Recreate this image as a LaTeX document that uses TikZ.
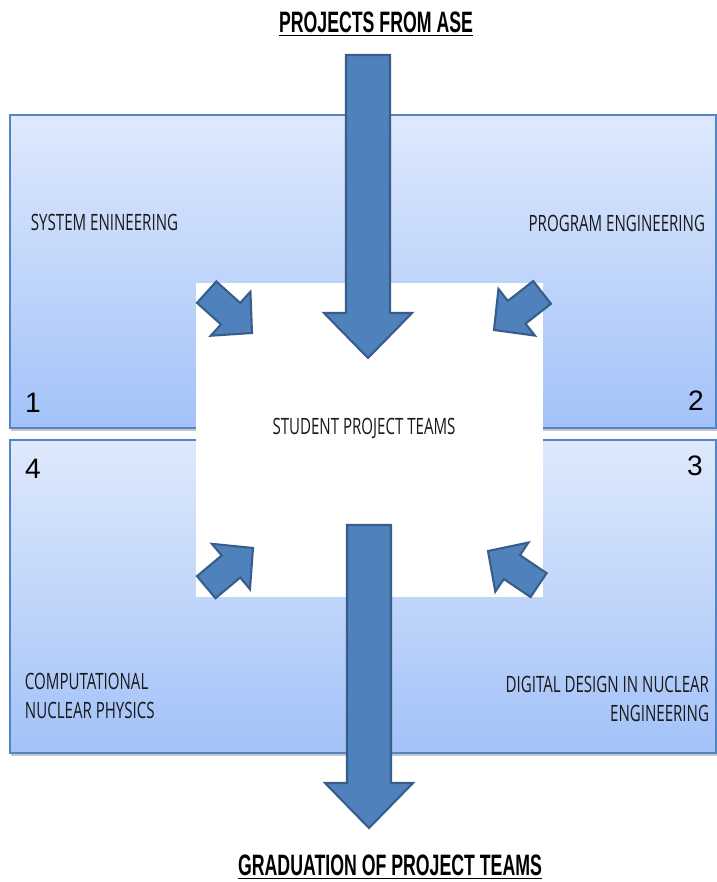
\documentclass[tikz,border=0pt]{standalone}
\usepackage{fontspec}
\usepackage{tikz}
\usetikzlibrary{shadows}
\setmainfont{Liberation Sans}
\newfontfamily\labelfont[FakeStretch=0.67]{Open Sans}
\newfontfamily\titlefont[FakeStretch=0.6]{Liberation Sans Bold}
\definecolor{boxtop}{RGB}{222,233,252}
\definecolor{boxbottom}{RGB}{163,194,248}
\definecolor{boxline}{RGB}{84,132,195}
\definecolor{arrowfill}{RGB}{79,129,189}
\definecolor{arrowline}{RGB}{56,93,138}
\tikzstyle{quadrant} = [rectangle, minimum width=8.825cm, minimum height=7.825cm,
draw=boxline, line width=0.8pt, top color=boxtop, bottom color=boxbottom,
drop shadow={shadow xshift=0.03cm, shadow yshift=-0.08cm, opacity=0.45}]
\tikzstyle{blockarrow} = [fill=arrowfill, draw=arrowline, line width=1.5pt, line join=miter]
\tikzstyle{area} = [font=\labelfont\fontsize{16}{20}\selectfont, text=black!90]
\tikzstyle{number} = [font=\fontsize{20}{24}\selectfont]
\tikzstyle{heading} = [font=\titlefont\fontsize{21}{24}\selectfont, anchor=base]
\tikzset{smallarrow/.pic={
\draw[blockarrow] (0,0) -- (-0.72,0.74) -- (-0.72,0.36) -- (-1.525,0.36) -- (-1.525,-0.36)
-- (-0.72,-0.36) -- (-0.72,-0.74) -- cycle;}}

\begin{document}
\begin{tikzpicture}
				\useasboundingbox (0,0) rectangle (17.925,22.05);
				\node (q1) at (4.6625,15.2625) [quadrant] {};
				\node (q2) at (13.4875,15.2625) [quadrant] {};
				\node (q4) at (4.6625,7.1375) [quadrant] {};
				\node (q3) at (13.4875,7.1375) [quadrant] {};
				\node (teams) at (9.2375,11.05) [fill=white, minimum width=8.675cm, minimum height=7.85cm] {};
				\node[area] (teamslabel) at (9.1,11.35) {STUDENT PROJECT TEAMS};
				\node[area, anchor=west] (sys) at (0.65,16.5) {SYSTEM ENINEERING};
				\node[area, anchor=east] (prog) at (17.75,16.475) {PROGRAM ENGINEERING};
				\node[area, anchor=west, align=left] (comp) at (0.5,4.65) {COMPUTATIONAL\\ NUCLEAR PHYSICS};
				\node[area, anchor=east, align=right] (digital) at (17.85,4.575) {DIGITAL DESIGN IN NUCLEAR\\ENGINEERING};
				\node[number] (n1) at (0.825,11.975) {1};
				\node[number] (n2) at (17.4,12.025) {2};
				\node[number] (n3) at (17.375,10.4) {3};
				\node[number] (n4) at (0.825,10.325) {4};
				% arrows into the teams
				\pic[rotate=-42] at (6.3,13.725) {smallarrow};
				\pic[rotate=-142] at (12.35,13.8) {smallarrow};
				\pic[rotate=40] at (6.325,8.35) {smallarrow};
				\pic[rotate=146] at (12.2,8.275) {smallarrow};
				\draw[blockarrow] (8.65,20.675) -- (9.75,20.675) -- (9.75,14.225) -- (10.3,14.225)
				-- (9.2,13.1) -- (8.1,14.225) -- (8.65,14.225) -- cycle;
				\draw[blockarrow] (8.675,8.925) -- (9.775,8.925) -- (9.775,2.475) -- (10.325,2.475)
				-- (9.225,1.35) -- (8.125,2.475) -- (8.675,2.475) -- cycle;
				\node[heading] (ase) at (9.4,21.225) {\underline{PROJECTS FROM ASE}};
				\node[heading] (grad) at (9.75,0.15) {\underline{GRADUATION OF PROJECT TEAMS}};
\end{tikzpicture}
\end{document}
